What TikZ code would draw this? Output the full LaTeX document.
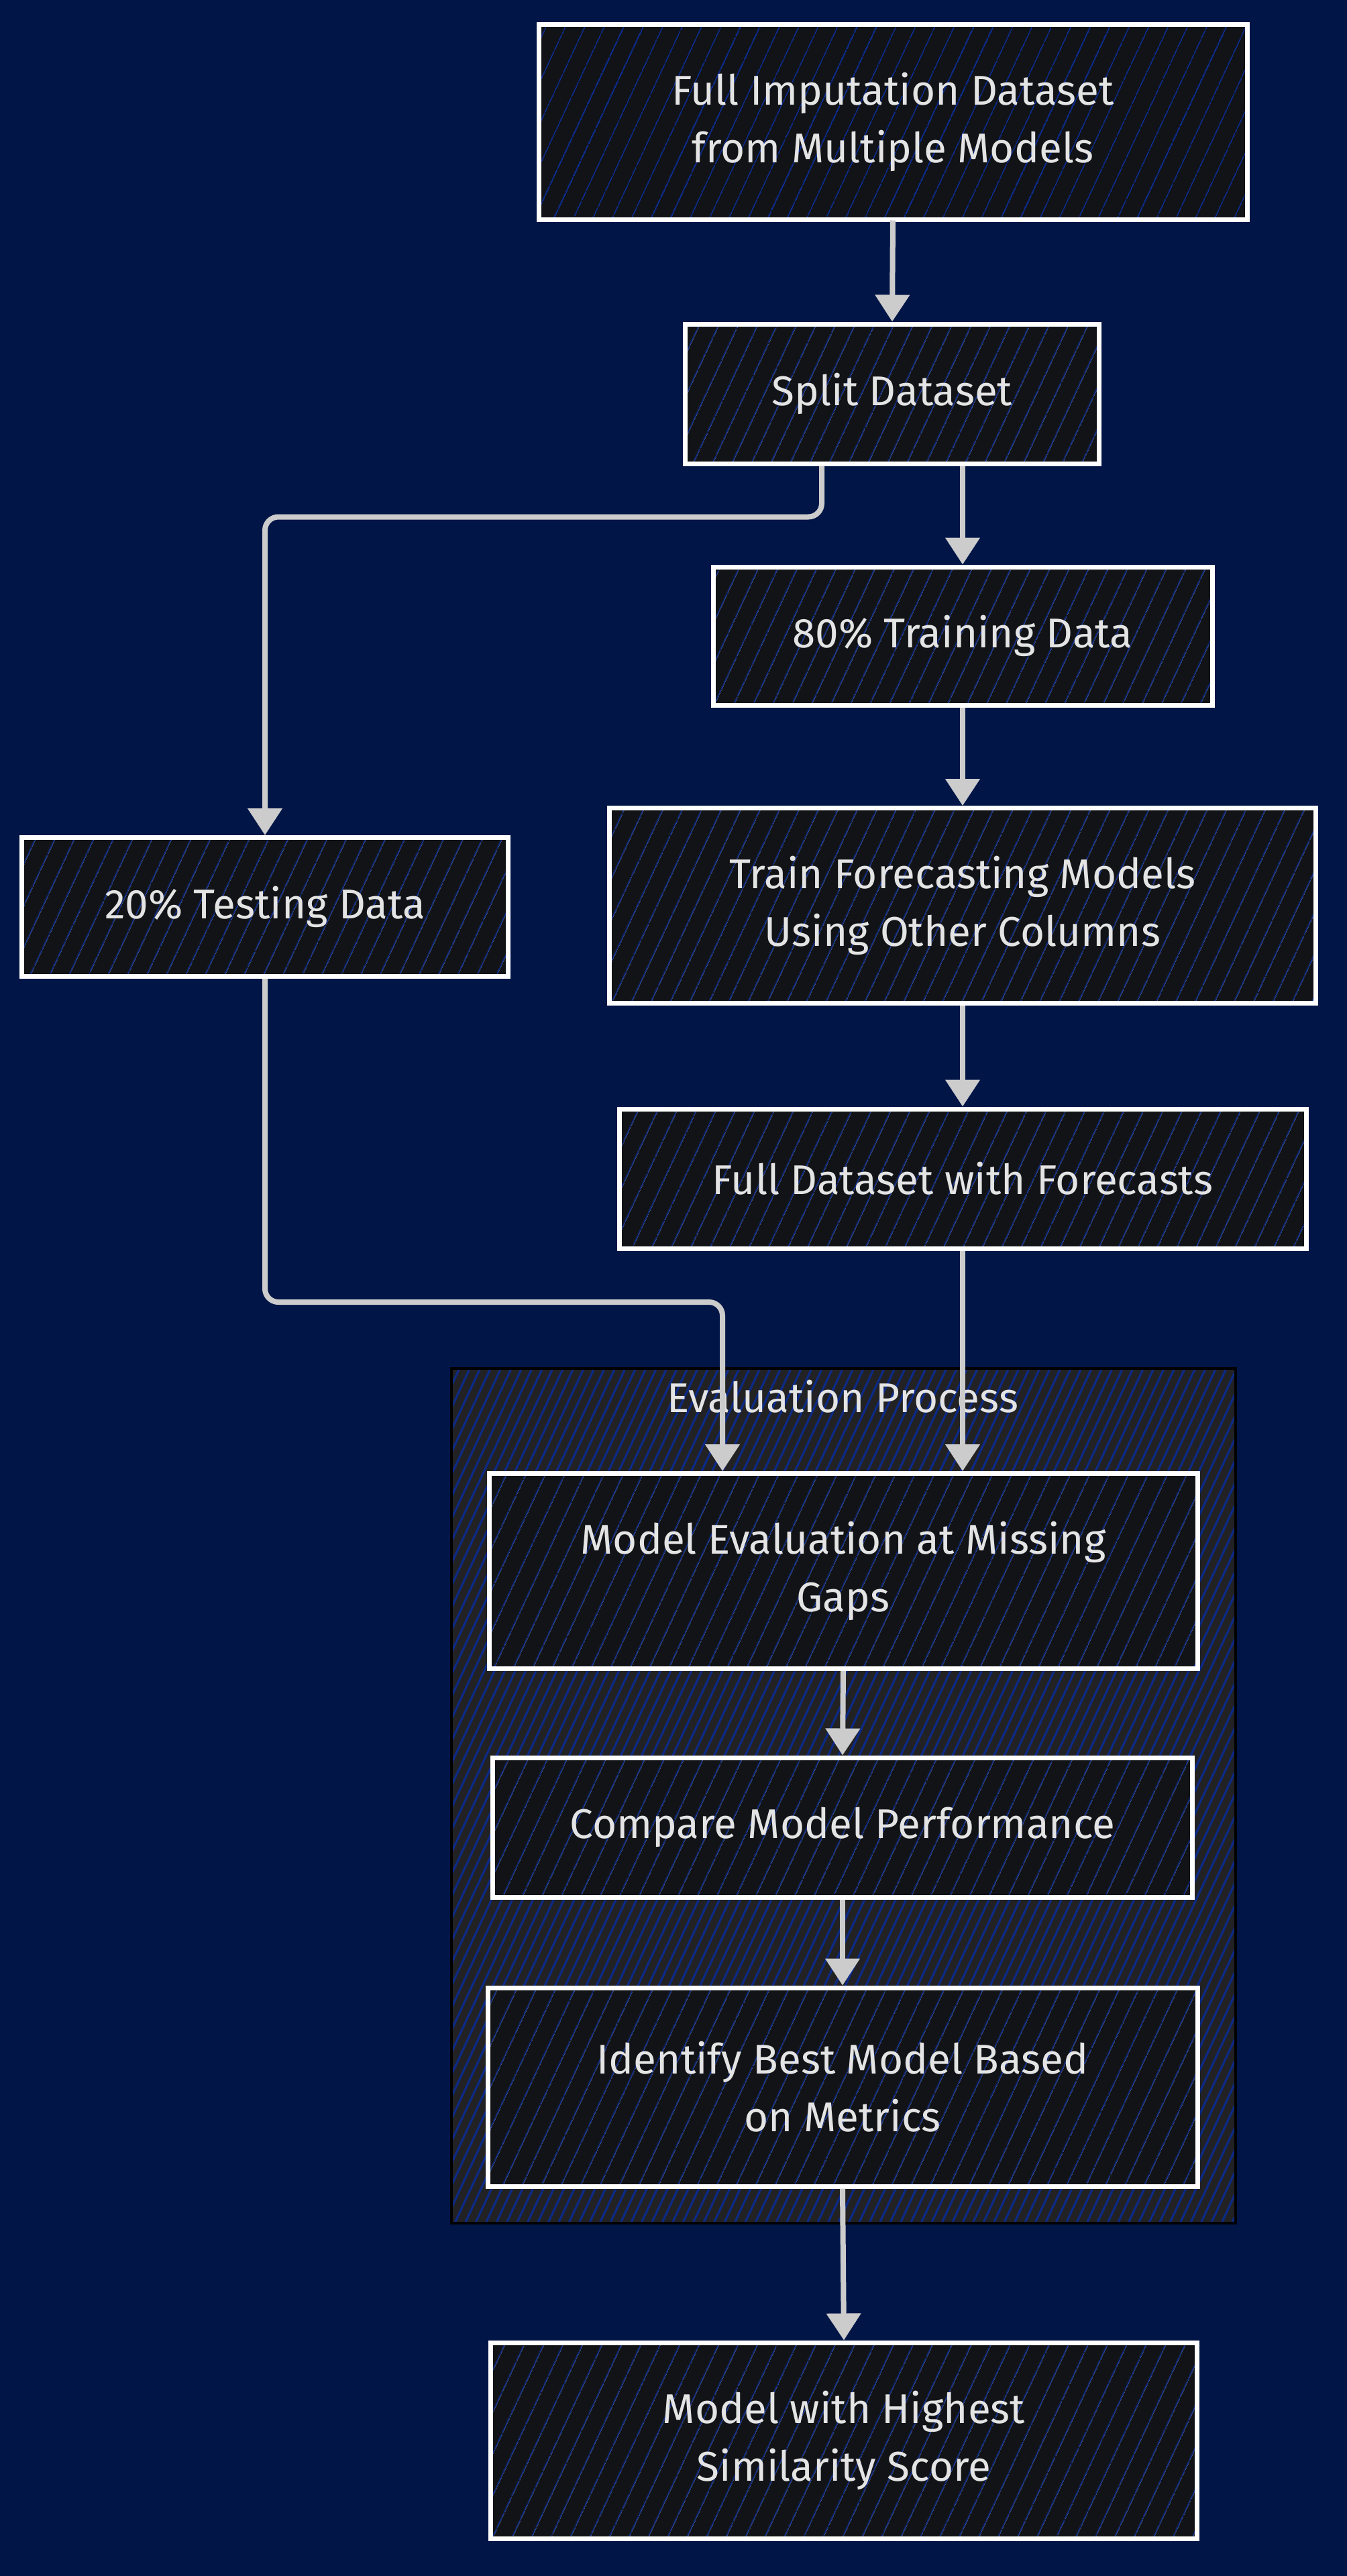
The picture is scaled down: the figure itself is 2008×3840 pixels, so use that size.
\documentclass[tikz,border=0pt]{standalone}
\usepackage{fontspec}
\setmainfont{Fira Sans}
\usetikzlibrary{arrows.meta,patterns.meta}

\definecolor{bg}{HTML}{011547}
\definecolor{boxfill}{HTML}{121316}
\definecolor{grpfill}{HTML}{222224}
\definecolor{hatch}{HTML}{0C2A86}
\definecolor{wire}{HTML}{CCCCCC}
\definecolor{txt}{HTML}{E4E4E4}

\tikzset{
  box/.style={draw=white, line width=3.5pt, preaction={fill=boxfill},
    pattern={Lines[angle=65,distance=13pt,line width=1pt]}, pattern color=hatch,
    text=txt, font=\fontsize{31}{43}\selectfont, align=center, inner sep=0pt},
  group/.style={draw=black, line width=1.8pt, preaction={fill=grpfill},
    pattern={Lines[angle=65,distance=7pt,line width=1.6pt]}, pattern color=hatch,
    inner sep=0pt},
  wire/.style={draw=wire, line width=4pt, rounded corners=10pt,
    -{Triangle[width=25pt,length=20pt]}},
}

\begin{document}
\begin{tikzpicture}[x=0.5pt,y=-0.5pt]
  \fill[bg] (0,0) rectangle (2008,3840);
  \useasboundingbox (0,0) rectangle (2008,3840);

  % evaluation subgraph
  \node[group, minimum width=584.5pt, minimum height=637pt] (grp) at (1257.5,2677) {};
  \node[text=txt, font=\fontsize{31}{43}\selectfont] (grptitle) at (1256,2082) {Evaluation Process};

  % steps
  \node[box, minimum width=528pt, minimum height=145.5pt] (n1) at (1331,182)
    {Full Imputation Dataset\\from Multiple Models};
  \node[box, minimum width=308.5pt, minimum height=104pt] (n2) at (1330,587) {Split Dataset};
  \node[box, minimum width=372pt, minimum height=103pt] (n3) at (1435,948) {80\% Training Data};
  \node[box, minimum width=362.5pt, minimum height=103.5pt] (n4) at (395,1352) {20\% Testing Data};
  \node[box, minimum width=526.5pt, minimum height=145.5pt] (n5) at (1435,1350)
    {Train Forecasting Models\\Using Other Columns};
  \node[box, minimum width=512pt, minimum height=104pt] (n6) at (1435,1757) {Full Dataset with Forecasts};
  \node[box, minimum width=528pt, minimum height=145.5pt] (n8) at (1257,2342)
    {Model Evaluation at Missing\\Gaps};
  \node[box, minimum width=521.5pt, minimum height=104pt] (n9) at (1256,2724) {Compare Model Performance};
  \node[box, minimum width=529pt, minimum height=148pt] (n10) at (1256,3111)
    {Identify Best Model Based\\on Metrics};
  \node[box, minimum width=526.5pt, minimum height=146pt] (n11) at (1258,3638)
    {Model with Highest\\Similarity Score};

  % connectors
  \draw[wire] (n1.south) -- (n2.north);
  \draw[wire] (n3.north |- n2.south) -- (n3.north);
  \draw[wire] ([xshift=-52.5pt]n2.south) -- ++(0,76) -| (n4.north);
  \draw[wire] (n3.south) -- (n5.north);
  \draw[wire] (n5.south) -- (n6.north);
  \draw[wire] (n4.south) -- ++(0,482) -| ([xshift=-90pt]n8.north);
  \draw[wire] (n6.south) -- (n6.south |- n8.north);
  \draw[wire] (n8.south) -- (n9.north);
  \draw[wire] (n9.south) -- (n10.north);
  \draw[wire] (n10.south) -- (n11.north);
\end{tikzpicture}
\end{document}
